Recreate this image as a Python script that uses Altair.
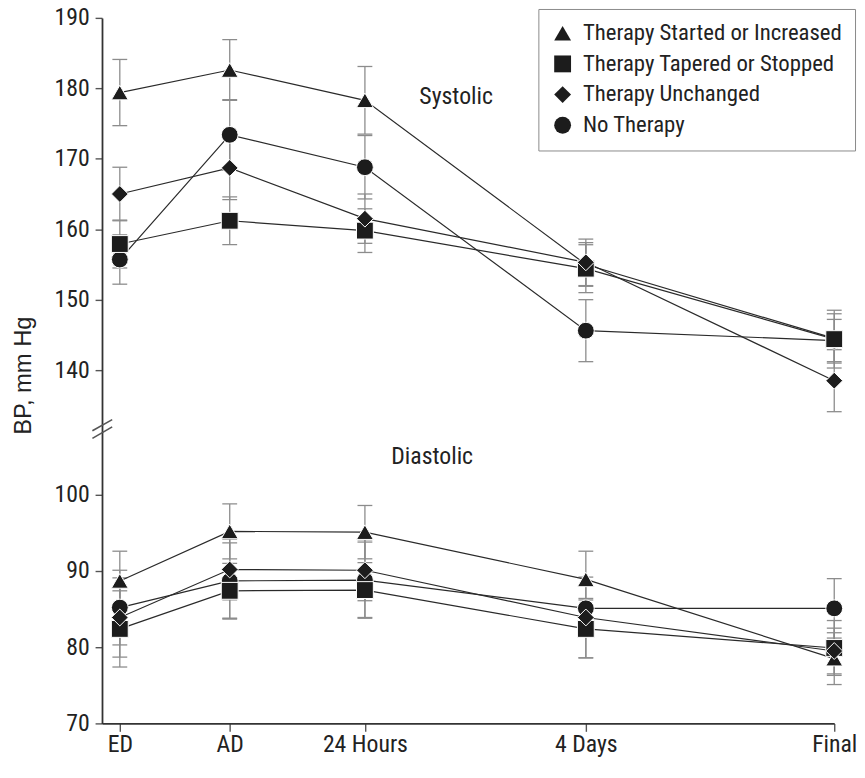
import altair as alt
import pandas as pd

# ---------------- data ----------------
series = ["Therapy Started or Increased", "Therapy Tapered or Stopped",
          "Therapy Unchanged", "No Therapy"]
shapes = ["triangle-up", "square", "diamond", "circle"]
draw_z = [1, 2, 3, 0]          # stacking order of markers

timepoints = ["ED", "AD", "24 Hours", "4 Days", "Final"]
time_pos = [0, 1, 2.23, 4.24, 6.5]

systolic_mean = [
    [179.4, 182.6, 178.3, 155.0, 144.5],
    [157.9, 161.2, 159.8, 154.4, 144.4],
    [165.0, 168.7, 161.5, 155.3, 138.5],
    [155.7, 173.4, 168.8, 145.6, 144.2],
]
systolic_err = [
    [4.7, 4.3, 4.8, 3.1, 3.5],
    [3.4, 3.4, 3.1, 3.4, 4.1],
    [3.8, 4.5, 3.5, 3.3, 4.4],
    [3.5, 5.0, 4.5, 4.4, 3.0],
]
diastolic_mean = [
    [88.7, 95.2, 95.1, 88.9, 78.5],
    [82.4, 87.4, 87.5, 82.4, 79.9],
    [83.9, 90.2, 90.1, 83.9, 79.5],
    [85.2, 88.7, 88.8, 85.1, 85.1],
]
diastolic_err = [
    [3.9, 3.6, 3.5, 3.7, 3.4],
    [5.0, 3.6, 3.6, 3.8, 3.6],
    [5.2, 4.0, 4.0, 5.3, 3.0],
    [4.9, 5.0, 5.0, 1.3, 3.9],
]

sys_ticks = [140, 150, 160, 170, 180, 190]
dia_ticks = [70, 80, 90, 100]
sys_domain = [131.71, 190]
dia_domain = [70, 108.7]
x_domain = [-0.162, 6.5]

panel_labels = ["Systolic", "Diastolic"]
label_pos = [3.06, 2.842]
label_val = [177.8, 104.06]


def frame(means, errs):
    rows = []
    for i, s in enumerate(series):
        for j, t in enumerate(timepoints):
            m, e = means[i][j], errs[i][j]
            rows.append({"series": s, "time": t, "pos": time_pos[j],
                         "value": m, "lo": m - e, "hi": m + e, "z": draw_z[i]})
    return pd.DataFrame(rows).sort_values(["z", "pos"])


sys_df = frame(systolic_mean, systolic_err)
dia_df = frame(diastolic_mean, diastolic_err)

# ---------------- style ----------------
NARROW = ("'Liberation Sans Narrow', 'Arial Narrow', 'Noto Sans Condensed', "
          "'Roboto Condensed', 'DejaVu Sans Condensed', sans-serif")
REG = "'Liberation Sans', Arial, sans-serif"
W = 740
H_TOP = 415
H_BOT = 298

# label expression for x axis built from the arrays
mids = [(time_pos[k] + time_pos[k + 1]) / 2 for k in range(len(time_pos) - 1)]
expr = "'" + timepoints[-1] + "'"
for k in range(len(mids) - 1, -1, -1):
    expr = f"datum.value < {mids[k]} ? '{timepoints[k]}' : ({expr})"

yaxis_common = dict(grid=False, domainColor="#333", domainWidth=1.8,
                    tickColor="#555", tickWidth=1.4, tickSize=7,
                    labelFont=NARROW, labelFontSize=24, labelColor="#222",
                    labelPadding=6)


def xenc(axis):
    return alt.X("pos:Q", scale=alt.Scale(domain=x_domain, nice=False, zero=False),
                 axis=axis)


def panel(df, ydomain, yaxis, xaxis, legend, k):
    yscale = alt.Scale(domain=ydomain, nice=False, zero=False)
    base = alt.Chart(df)
    err_rule = base.mark_rule(color="#8c8c8c", strokeWidth=1.3).encode(
        x=xenc(xaxis), y=alt.Y("lo:Q", scale=yscale, axis=yaxis), y2="hi:Q")
    caps = base.transform_fold(["lo", "hi"], as_=["k", "v"]).mark_tick(
        orient="horizontal", size=15, thickness=1.3, color="#8c8c8c", opacity=1
    ).encode(x=xenc(xaxis), y=alt.Y("v:Q", scale=yscale, axis=yaxis))
    lines = base.mark_line(color="#2a2a2a", strokeWidth=1.2).encode(
        x=xenc(xaxis), y=alt.Y("value:Q", scale=yscale, axis=yaxis),
        detail="series:N", order="pos:Q")
    pts = base.mark_point(filled=True, size=290, color="#1c1c1c", stroke="white",
                          strokeWidth=1, opacity=1).encode(
        x=xenc(xaxis), y=alt.Y("value:Q", scale=yscale, axis=yaxis),
        shape=alt.Shape("series:N", scale=alt.Scale(domain=series, range=shapes),
                        legend=legend),
        order="z:Q")
    tdf = pd.DataFrame({"pos": [label_pos[k]], "value": [label_val[k]],
                        "t": [panel_labels[k]]})
    txt = alt.Chart(tdf).mark_text(font=NARROW, fontSize=24, color="#222",
                                   align="center", baseline="alphabetic").encode(
        x=xenc(xaxis), y=alt.Y("value:Q", scale=yscale, axis=yaxis), text="t:N")
    return [err_rule, caps, lines, pts, txt]


legend = alt.Legend(title=None, orient="none", legendX=441, legendY=-9,
                    strokeColor="#8a8a8a", fillColor="white",
                    padding=13, labelFont=NARROW, labelFontSize=23,
                    labelColor="#222", labelLimit=0, labelOffset=9,
                    symbolSize=290, symbolFillColor="#1c1c1c",
                    symbolStrokeWidth=0, rowPadding=7)

top_axis = alt.Axis(values=sys_ticks, title="BP, mm Hg", titleFont=REG,
                    titleFontSize=24, titleFontWeight="normal", titleColor="#222",
                    titlePadding=19, titleY=361, **yaxis_common)
bot_axis = alt.Axis(values=dia_ticks, title=None, **yaxis_common)
x_axis = alt.Axis(values=time_pos, labelExpr=expr, title=None, grid=False,
                  labelFlush=False, domainColor="#333", domainWidth=1.8,
                  tickColor="#555", tickWidth=1.4, tickSize=8,
                  labelFont=NARROW, labelFontSize=24, labelColor="#222",
                  labelPadding=1)

top_layers = panel(sys_df, sys_domain, top_axis, None, legend, 0)
bot_layers = panel(dia_df, dia_domain, bot_axis, x_axis, None, 1)

brk1 = alt.Chart(pd.DataFrame({"k": [0]})).mark_rule(color="#555", strokeWidth=1.6).encode(
    x=alt.value(-9.7), x2=alt.value(10.3), y=alt.value(2.3), y2=alt.value(-9))
brk2 = alt.Chart(pd.DataFrame({"k": [0]})).mark_rule(color="#555", strokeWidth=1.6).encode(
    x=alt.value(-9.7), x2=alt.value(10.3), y=alt.value(10), y2=alt.value(-1.7))

top = alt.layer(*top_layers).properties(width=W, height=H_TOP)
bot = alt.layer(*bot_layers, brk1, brk2).properties(width=W, height=H_BOT)

chart = alt.vconcat(top, bot, spacing=0, bounds="flush").resolve_scale(
    shape="shared").properties(
    padding={"left": 3, "top": -6, "right": 0, "bottom": 0}
).configure_view(stroke=None, strokeWidth=0)

chart.save("out.html", embed_options={"renderer": "svg", "actions": False})
